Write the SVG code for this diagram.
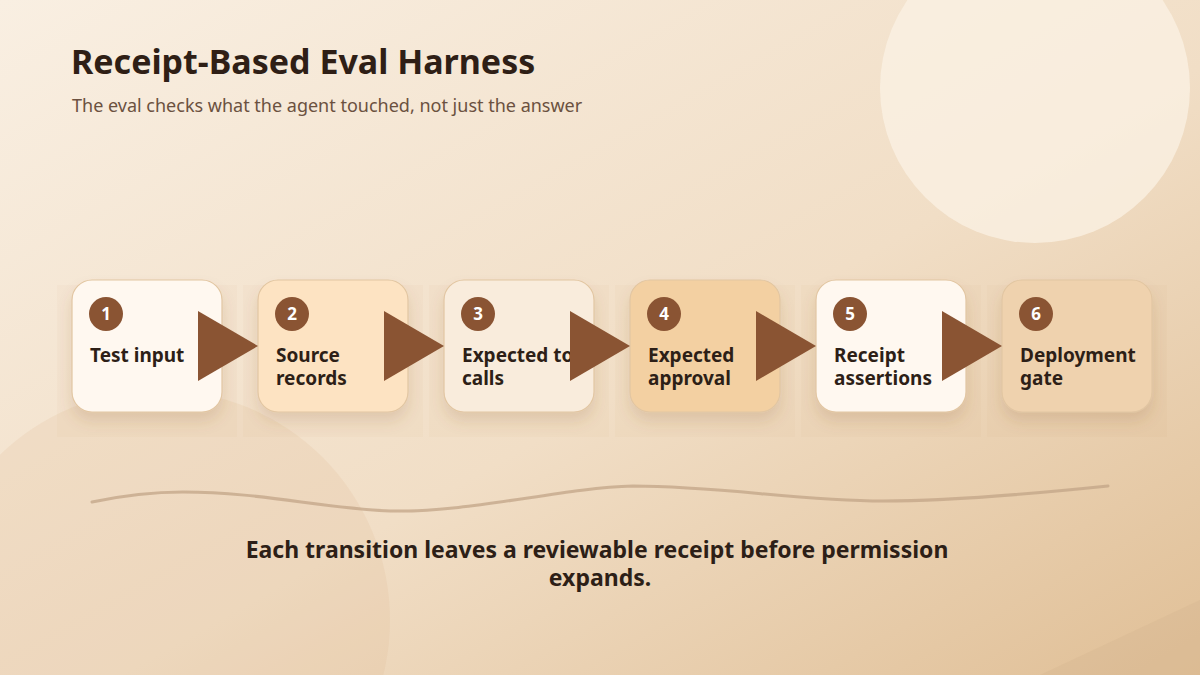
<svg xmlns="http://www.w3.org/2000/svg" width="1200" height="675" viewBox="0 0 1200 675">
<defs>
<linearGradient id="bg" x1="0" y1="0" x2="1" y2="1">
<stop offset="0" stop-color="#f9efe2"/>
<stop offset="0.55" stop-color="#f1dec6"/>
<stop offset="1" stop-color="#e0bf96"/>
</linearGradient>
<filter id="sh" x="-20%" y="-20%" width="140%" height="150%">
<feGaussianBlur in="SourceAlpha" stdDeviation="7"/>
<feOffset dy="9" result="b"/>
<feFlood flood-color="#8a5a30" flood-opacity="0.16"/>
<feComposite in2="b" operator="in"/>
<feMerge><feMergeNode/><feMergeNode in="SourceGraphic"/></feMerge>
</filter>
<style>
.panel{fill:#b07a45;opacity:0.03}
.box{stroke:#e2c6a2;stroke-width:1.2}
.badge{fill:#8a5433}
.num{font-family:"Noto Sans","Open Sans",sans-serif;font-weight:700;font-size:17px;fill:#fff;text-anchor:middle}
.lbl{font-family:"Noto Sans","Open Sans",sans-serif;font-weight:700;font-size:19px;fill:#2d1f17}
.arr{fill:#8a5433}
</style>
</defs>
<rect width="1200" height="675" fill="url(#bg)"/>
<circle cx="1035" cy="88" r="155" fill="#fbf1e4" opacity="0.75"/>
<circle cx="160" cy="620" r="230" fill="#dcb98f" opacity="0.18"/>
<path d="M1040,675 L1200,600 L1200,675 Z" fill="#cfae8c" opacity="0.25"/>

<text x="71" y="74" font-family="Noto Sans, Open Sans, sans-serif" font-weight="700" font-size="34" fill="#2f1f16">Receipt-Based Eval Harness</text>
<text x="72" y="112" font-family="Noto Sans, Open Sans, sans-serif" font-size="18" fill="#6b5140">The eval checks what the agent touched, not just the answer</text>

<g id="panels">
<rect class="panel" x="57" y="285" width="180" height="152"/>
<rect class="panel" x="243" y="285" width="180" height="152"/>
<rect class="panel" x="429" y="285" width="180" height="152"/>
<rect class="panel" x="615" y="285" width="180" height="152"/>
<rect class="panel" x="801" y="285" width="180" height="152"/>
<rect class="panel" x="987" y="285" width="180" height="152"/>
</g>

<g id="node1">
<rect class="box" x="72" y="280" width="150" height="132" rx="20" fill="#fff8f0" filter="url(#sh)"/>
<circle class="badge" cx="106" cy="314" r="17"/>
<text class="num" x="106" y="320">1</text>
<text class="lbl" x="90" y="362">Test input</text>
</g>
<g id="node2">
<rect class="box" x="258" y="280" width="150" height="132" rx="20" fill="#fde3c2" filter="url(#sh)"/>
<circle class="badge" cx="292" cy="314" r="17"/>
<text class="num" x="292" y="320">2</text>
<text class="lbl" x="276" y="362">Source</text>
<text class="lbl" x="276" y="385">records</text>
</g>
<g id="node3">
<rect class="box" x="444" y="280" width="150" height="132" rx="20" fill="#f9ecdc" filter="url(#sh)"/>
<circle class="badge" cx="478" cy="314" r="17"/>
<text class="num" x="478" y="320">3</text>
<text class="lbl" x="462" y="362">Expected tool</text>
<text class="lbl" x="462" y="385">calls</text>
</g>
<g id="node4">
<rect class="box" x="630" y="280" width="150" height="132" rx="20" fill="#f3d0a2" filter="url(#sh)"/>
<circle class="badge" cx="664" cy="314" r="17"/>
<text class="num" x="664" y="320">4</text>
<text class="lbl" x="648" y="362">Expected</text>
<text class="lbl" x="648" y="385">approval</text>
</g>
<g id="node5">
<rect class="box" x="816" y="280" width="150" height="132" rx="20" fill="#fff8f0" filter="url(#sh)"/>
<circle class="badge" cx="850" cy="314" r="17"/>
<text class="num" x="850" y="320">5</text>
<text class="lbl" x="834" y="362">Receipt</text>
<text class="lbl" x="834" y="385">assertions</text>
</g>
<g id="node6">
<rect class="box" x="1002" y="280" width="150" height="132" rx="20" fill="#efd2ae" filter="url(#sh)"/>
<circle class="badge" cx="1036" cy="314" r="17"/>
<text class="num" x="1036" y="320">6</text>
<text class="lbl" x="1020" y="362">Deployment</text>
<text class="lbl" x="1020" y="385">gate</text>
</g>

<g id="connectors">
<polygon class="arr" points="198,311 258,346 198,381"/>
<polygon class="arr" points="384,311 444,346 384,381"/>
<polygon class="arr" points="570,311 630,346 570,381"/>
<polygon class="arr" points="756,311 816,346 756,381"/>
<polygon class="arr" points="942,311 1002,346 942,381"/>
</g>

<path d="M92,502 C130,494 160,492 183,492 C260,492 320,508 390,511 C470,513 560,488 633,486 C720,486 800,501 883,501 C960,501 1050,492 1108,486" fill="none" stroke="#c2a487" stroke-width="3" opacity="0.75" stroke-linecap="round"/>

<text font-family="Noto Sans, Open Sans, sans-serif" font-weight="700" font-size="23" fill="#2d1f17" text-anchor="middle">
<tspan x="600" y="558">Each transition leaves a reviewable receipt before permission</tspan>
<tspan x="600" y="586">expands.</tspan>
</text>
</svg>
